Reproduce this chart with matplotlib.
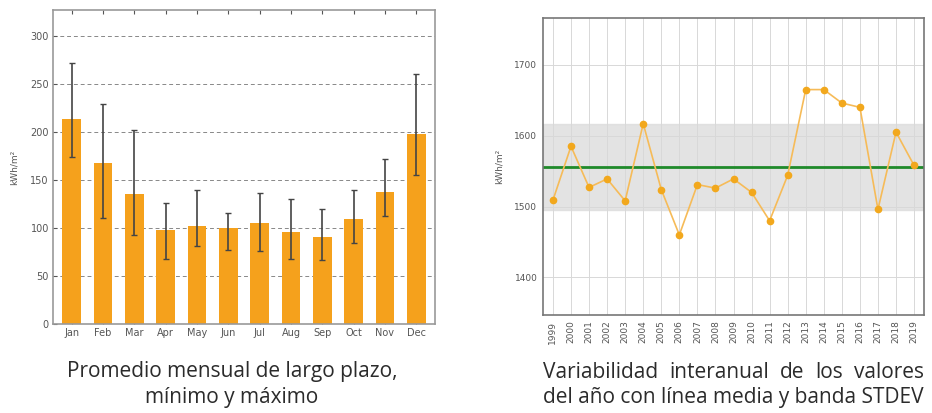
import matplotlib.pyplot as plt
import numpy as np

# monthly long-term average with min / max
months = ["Jan", "Feb", "Mar", "Apr", "May", "Jun", "Jul", "Aug", "Sep", "Oct", "Nov", "Dec"]
monthly_avg = [214, 168, 135, 98, 102, 100, 105, 96, 91, 109, 137, 198]
monthly_min = [174, 110, 93, 68, 81, 77, 76, 68, 67, 84, 112, 155]
monthly_max = [272, 229, 202, 126, 140, 116, 136, 130, 120, 140, 172, 260]

# yearly values, mean and stdev band
years = list(range(1999, 2020))
yearly = [1509, 1585, 1527, 1539, 1508, 1617, 1524, 1460, 1531, 1526, 1539,
          1520, 1480, 1544, 1665, 1665, 1646, 1640, 1496, 1605, 1558]
year_mean = 1556
band_low, band_high = 1495, 1617

BAR = "#f5a11c"
TXT = "#555555"

fig = plt.figure(figsize=(9.32, 4.13), dpi=100)
W, H = 932, 413


def box(l, t, r, b):
    return [l / W, 1 - b / H, (r - l) / W, (b - t) / H]


# ---- left: monthly bars ----
ax1 = fig.add_axes(box(53, 10, 435, 324))
x = np.arange(len(months))
avg = np.array(monthly_avg)
err = [avg - np.array(monthly_min), np.array(monthly_max) - avg]
ax1.bar(x, avg, width=0.6, color=BAR, zorder=2)
ax1.errorbar(x, avg, yerr=err, fmt="none", ecolor="#444444", elinewidth=1.2,
             capsize=2, capthick=1, zorder=3)
ax1.set_xlim(-0.6, 11.6)
ax1.set_ylim(0, 327)
ax1.set_yticks(range(0, 301, 50))
ax1.set_xticks(x)
ax1.set_xticklabels(months)
ax1.yaxis.grid(True, linestyle=(0, (4, 3)), color="#888888", lw=0.7, zorder=0)
ax1.tick_params(labelsize=7, colors=TXT, length=3, direction="in",
                top=True, right=False, pad=3)
ax1.set_ylabel("kWh/m²", fontsize=6.5, color=TXT, labelpad=8)
for s in ax1.spines.values():
    s.set_color("#999999")
    s.set_linewidth(1.2)

# ---- right: interannual variability ----
ax2 = fig.add_axes(box(543, 18, 924, 315))
ax2.axhspan(band_low, band_high, color="#dcdcdc", alpha=0.8, zorder=0)
ax2.axhline(year_mean, color="#1f8a2a", lw=2, zorder=2)
ax2.plot(years, yearly, color="#f6bb58", lw=1.2, marker="o", ms=4.5,
         mfc="#f2a81d", mec="#f2a81d", zorder=3)
ax2.set_xlim(1998.45, 2019.55)
ax2.set_ylim(1347, 1766)
ax2.set_yticks([1400, 1500, 1600, 1700])
ax2.set_xticks(years)
ax2.set_xticklabels([str(y) for y in years], rotation=90)
ax2.grid(True, color="#d8d8d8", lw=0.7, zorder=1)
ax2.tick_params(labelsize=6.5, colors=TXT, length=0, pad=4)
ax2.set_ylabel("kWh/m²", fontsize=6.5, color=TXT, labelpad=8)
for s in ax2.spines.values():
    s.set_color("#777777")
    s.set_linewidth(1.2)

# ---- captions ----
cap = dict(fontsize=15, color="#2b2b2b", family="Open Sans")
fig.text(232 / W, 1 - 372 / H, "Promedio mensual de largo plazo,", ha="center", va="center", **cap)
fig.text(232 / W, 1 - 397 / H, "mínimo y máximo", ha="center", va="center", **cap)

# right caption, first line justified to the width of the second
line2 = fig.text(543 / W, 1 - 397 / H, "del año con línea media y banda STDEV",
                 ha="left", va="center", **cap)
fig.canvas.draw()
r = fig.canvas.get_renderer()
bb2 = line2.get_window_extent(r)
words = "Variabilidad interanual de los valores".split()
tmp = [fig.text(0, 0, w, **cap) for w in words]
widths = [t.get_window_extent(r).width for t in tmp]
for t in tmp:
    t.remove()
gap = (bb2.width - sum(widths)) / (len(words) - 1)
xpos = bb2.x0
for w, wd in zip(words, widths):
    fig.text(xpos / fig.bbox.width, 1 - 372 / H, w, ha="left", va="center", **cap)
    xpos += wd + gap

fig.savefig("out.png", dpi=100)
